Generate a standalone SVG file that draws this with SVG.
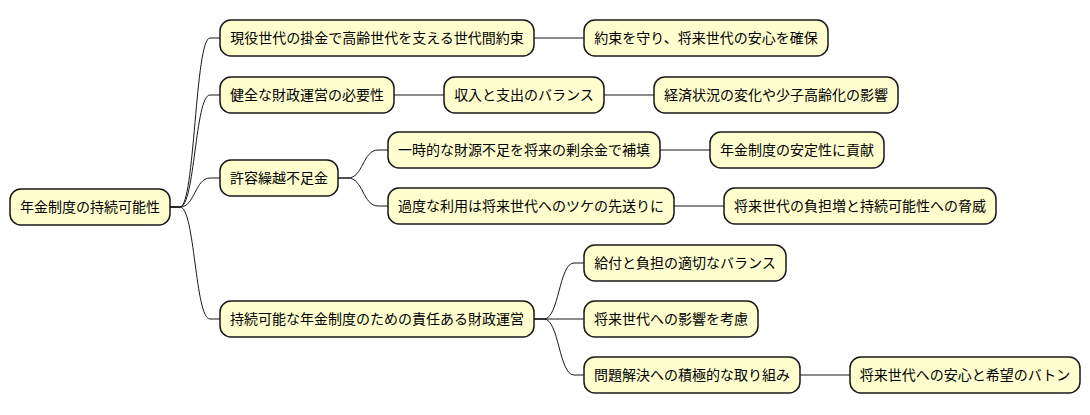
<svg xmlns="http://www.w3.org/2000/svg" width="1090" height="415" viewBox="0 0 1090 415">
<style>
.n rect{fill:#FEFECE;stroke:#181818;stroke-width:1.5}
.n text{font-family:"Noto Sans CJK JP","Noto Sans",sans-serif;font-size:14px;fill:#000;text-anchor:middle}
#edges path{fill:none;stroke:#181818;stroke-width:1}
</style>
<rect width="1090" height="415" fill="#fff"/>
<g id="edges">
<path d="M170,207 L180,207 C195,207 195,38 210,38 L220,38"/>
<path d="M170,207 L180,207 C195,207 195,95 210,95 L220,95"/>
<path d="M170,207 L180,207 C195,207 195,178 210,178 L220,178"/>
<path d="M170,207 L180,207 C195,207 195,319 210,319 L220,319"/>
<path d="M534,38 L584,38"/>
<path d="M394,95 L444,95"/>
<path d="M604,95 L654,95"/>
<path d="M338,178 L348,178 C363,178 363,150 378,150 L388,150"/>
<path d="M338,178 L348,178 C363,178 363,206 378,206 L388,206"/>
<path d="M660,150 L710,150"/>
<path d="M674,206 L724,206"/>
<path d="M534,319 L544,319 C559,319 559,263 574,263 L584,263"/>
<path d="M534,319 L584,319"/>
<path d="M534,319 L544,319 C559,319 559,375 574,375 L584,375"/>
<path d="M800,375 L850,375"/>
</g>
<g id="root" class="n"><rect x="10" y="189" width="160" height="36" rx="11"/><text x="90" y="212">年金制度の持続可能性</text></g>
<g id="n1" class="n"><rect x="220" y="20" width="314" height="36" rx="11"/><text x="377" y="43">現役世代の掛金で高齢世代を支える世代間約束</text></g>
<g id="n1a" class="n"><rect x="584" y="20" width="244" height="36" rx="11"/><text x="706" y="43">約束を守り、将来世代の安心を確保</text></g>
<g id="n2" class="n"><rect x="220" y="77" width="174" height="36" rx="11"/><text x="307" y="100">健全な財政運営の必要性</text></g>
<g id="n2a" class="n"><rect x="444" y="77" width="160" height="36" rx="11"/><text x="524" y="100">収入と支出のバランス</text></g>
<g id="n2b" class="n"><rect x="654" y="77" width="244" height="36" rx="11"/><text x="776" y="100">経済状況の変化や少子高齢化の影響</text></g>
<g id="n3" class="n"><rect x="220" y="160" width="118" height="36" rx="11"/><text x="279" y="183">許容繰越不足金</text></g>
<g id="n3a" class="n"><rect x="388" y="132" width="272" height="36" rx="11"/><text x="524" y="155">一時的な財源不足を将来の剰余金で補填</text></g>
<g id="n3a1" class="n"><rect x="710" y="132" width="174" height="36" rx="11"/><text x="797" y="155">年金制度の安定性に貢献</text></g>
<g id="n3b" class="n"><rect x="388" y="188" width="286" height="36" rx="11"/><text x="531" y="211">過度な利用は将来世代へのツケの先送りに</text></g>
<g id="n3b1" class="n"><rect x="724" y="188" width="272" height="36" rx="11"/><text x="860" y="211">将来世代の負担増と持続可能性への脅威</text></g>
<g id="n4" class="n"><rect x="220" y="301" width="314" height="36" rx="11"/><text x="377" y="324">持続可能な年金制度のための責任ある財政運営</text></g>
<g id="n4a" class="n"><rect x="584" y="245" width="202" height="36" rx="11"/><text x="685" y="268">給付と負担の適切なバランス</text></g>
<g id="n4b" class="n"><rect x="584" y="301" width="174" height="36" rx="11"/><text x="671" y="324">将来世代への影響を考慮</text></g>
<g id="n4c" class="n"><rect x="584" y="357" width="216" height="36" rx="11"/><text x="692" y="380">問題解決への積極的な取り組み</text></g>
<g id="n4c1" class="n"><rect x="850" y="357" width="230" height="36" rx="11"/><text x="965" y="380">将来世代への安心と希望のバトン</text></g>
</svg>
